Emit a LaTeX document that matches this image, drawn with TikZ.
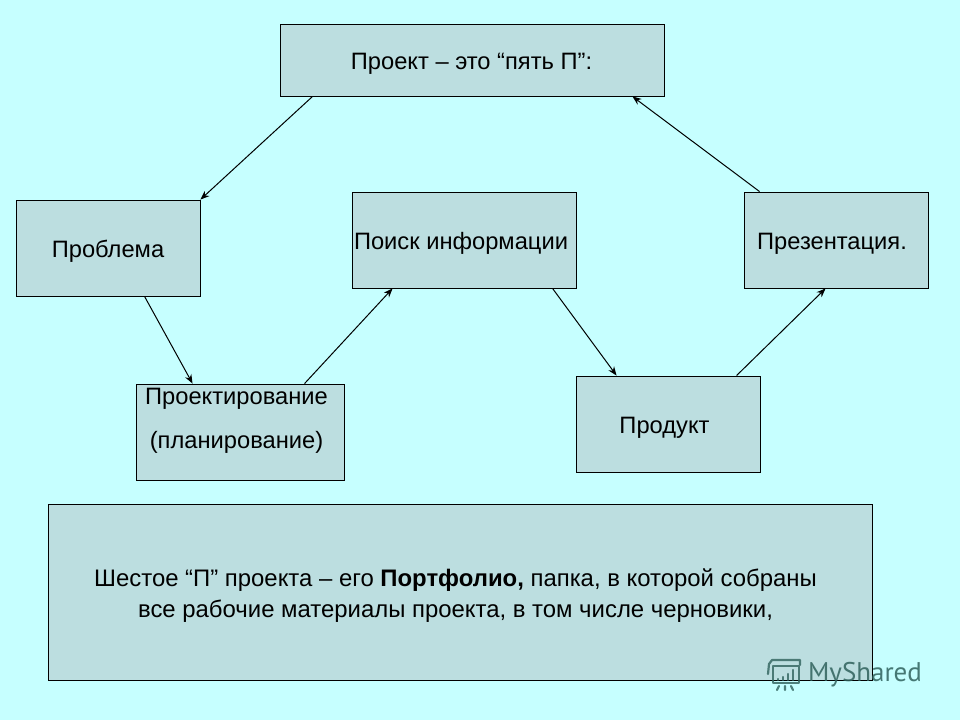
\documentclass[tikz,border=0pt]{standalone}
\usepackage{fontspec}
\setmainfont{Liberation Sans}
\newfontfamily\markfont{PT Sans}
\usetikzlibrary{arrows.meta}
\definecolor{slidebg}{HTML}{C6FFFF}
\definecolor{boxfill}{HTML}{BCDEE0}
\definecolor{markcol}{HTML}{2F615C}
\tikzset{x=1pt,y=-1pt}

\begin{document}
\begin{tikzpicture}[->,>={Stealth[length=9pt,width=7pt]},semithick]
  \tikzstyle{place}=[rectangle,draw=black,fill=boxfill,text=black,line width=0.9pt,
                     inner sep=0pt,font=\fontsize{23.7}{28}\selectfont]
  \tikzstyle{single}=[place,text height=26pt,text depth=8pt]
  \tikzstyle{link}=[line width=1pt]
  \tikzstyle{markline}=[-,draw=markcol,line width=2.2pt,opacity=0.8,line cap=round,line join=round]

  \fill[slidebg] (0,0) rectangle (960,720);
  \useasboundingbox (0,0) rectangle (960,720);

  \node[single,minimum width=384pt,minimum height=72pt] (proj) at (472,60) {Проект – это “пять П”:\kern1pt};
  \node[single,minimum width=184pt,minimum height=96pt] (problem) at (108,248) {Проблема};
  \node[single,minimum width=224pt,minimum height=96pt] (search) at (464,240) {Поиск информации\kern6pt};
  \node[single,minimum width=184pt,minimum height=96pt] (present) at (836,240) {Презентация.\kern8pt};
  \node[place,minimum width=208pt,minimum height=96pt] (design) at (240,432)
    {\begin{tabular}{@{}c@{}}Проектирование\\[16pt](планирование)\rule[-30pt]{0pt}{1pt}\end{tabular}\kern7pt};
  \node[single,minimum width=184pt,minimum height=96pt] (product) at (668,424) {Продукт\kern7pt};
  \node[place,minimum width=824pt,minimum height=176pt,align=center,font=\fontsize{23.9}{31}\selectfont] (folio) at (460,592)
    {\rule{0pt}{25pt}Шестое “П” проекта – его \textbf{Портфолио,} папка, в которой собраны\hspace*{9pt}\\все рабочие материалы проекта, в том числе черновики,\hspace*{9pt}};

  \path[link]
  ([xshift=33pt]proj.south west) edge (problem.north east)
  ([xshift=129pt]problem.south west) edge ([xshift=57pt]design.north west)
  ([xshift=169pt]design.north west) edge ([xshift=41pt]search.south west)
  ([xshift=201pt]search.south west) edge ([xshift=41pt]product.north west)
  ([xshift=161pt]product.north west) edge ([xshift=82pt]present.south west)
  ([xshift=16pt]present.north west) edge ([xshift=-32pt]proj.south east);

  % watermark
  \node[text=markcol,opacity=0.85,font=\markfont\fontsize{27}{30}\selectfont,inner sep=0pt] (mark) at (865,675) {MyShared};
  \draw[markline] (800,665) -- (800,660) -- (772,660) -- (769,664) -- (768,674);
  \draw[markline] (773,666) -- (799,666) -- (799,683) -- (773,683) -- cycle;
  \draw[markline] (779,686) -- (777,690) (785,686) -- (785,690) (791,686) -- (793,690);
  \draw[markline] (778,679) -- (778,680) (783,677) -- (783,680) (788,674) -- (788,680) (793,670) -- (793,680);
\end{tikzpicture}
\end{document}
